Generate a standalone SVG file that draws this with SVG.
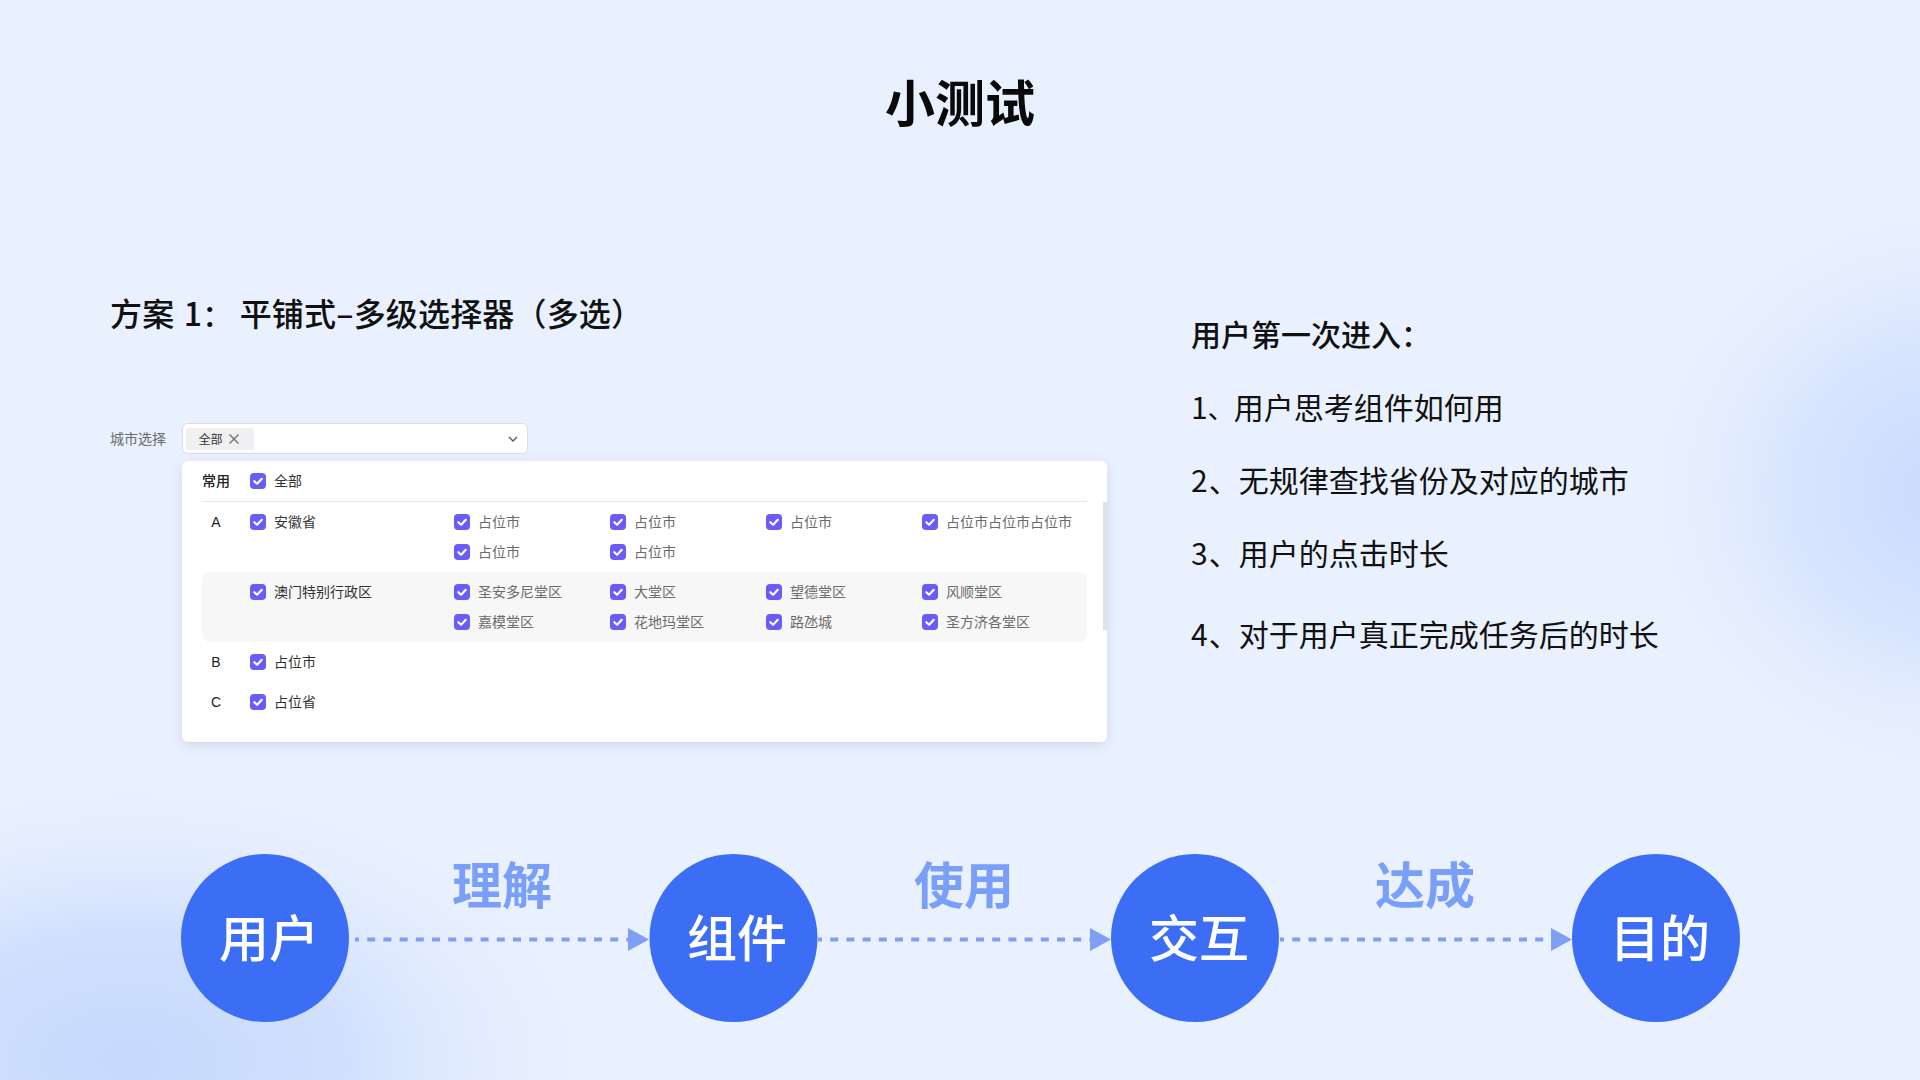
<svg xmlns="http://www.w3.org/2000/svg" xmlns:xlink="http://www.w3.org/1999/xlink" width="1920" height="1080" viewBox="0 0 1920 1080">
<style>
text{font-family:"Noto Sans CJK SC","Noto Sans",sans-serif}
.t14{font-size:14px;fill:#333}
.g14{font-size:14px;fill:#6b6b6b}
.let{font-size:14px;fill:#222;text-anchor:middle;font-family:"Liberation Sans",sans-serif}
.body{font-size:30px;fill:#111}
.circ{fill:#3c6ef5}
.ctext{font-size:50px;font-weight:500;fill:#fff;text-anchor:middle}
.link{font-size:50px;font-weight:700;fill:#7a9ff8;text-anchor:middle}
.dash{stroke:#7f9ff7;stroke-width:4;stroke-dasharray:8 8.200;stroke-dashoffset:4;fill:none}
.head{fill:#7f9ff7}
</style>
<defs>
<radialGradient id="bl" cx="0.5" cy="0.5" r="0.5"><stop offset="0" stop-color="#c6d9fd"/><stop offset="0.45" stop-color="#cddefe" stop-opacity="0.9"/><stop offset="1" stop-color="#e9f0fe" stop-opacity="0"/></radialGradient>
<radialGradient id="rt" cx="0.5" cy="0.5" r="0.5"><stop offset="0" stop-color="#c6d9fd"/><stop offset="0.5" stop-color="#d2e1fe" stop-opacity="0.75"/><stop offset="1" stop-color="#e9f0fe" stop-opacity="0"/></radialGradient>
<filter id="sh" x="-5%" y="-5%" width="110%" height="115%"><feDropShadow dx="0" dy="3" stdDeviation="6" flood-color="#8a9bc4" flood-opacity="0.28"/></filter>
<g id="cb"><rect width="16" height="16" rx="4" fill="#6a5cf6"/><path d="M4.300 8.200l2.800 2.500 4.700-4.900" fill="none" stroke="#fff" stroke-width="2.200" stroke-linecap="round" stroke-linejoin="round"/></g>
</defs>
<rect width="1920" height="1080" fill="#e9f0fe"/>
<ellipse cx="130" cy="1060" rx="480" ry="290" fill="url(#bl)"/>
<ellipse cx="1950" cy="490" rx="320" ry="300" fill="url(#rt)"/>
<text x="960" y="122" font-size="50" font-weight="700" fill="#0a0a0a" text-anchor="middle">小测试</text>
<text x="110" y="326" font-size="32" font-weight="500" fill="#111" letter-spacing="0.170">方案 <tspan dx="2">1</tspan><tspan font-size="30">：</tspan> 平铺式–多级选择器（多选）</text>
<g id="notes">
<text class="body" x="1191" y="346" font-weight="500">用户第一次进入：</text>
<text class="body" x="1191" y="419">1<tspan font-size="26">、</tspan>用户思考组件如何用</text>
<text class="body" x="1191" y="492">2<tspan dx="1">、无规律查找省份及对应的城市</tspan></text>
<text class="body" x="1191" y="565">3<tspan dx="1">、用户的点击时长</tspan></text>
<text class="body" x="1191" y="646">4<tspan dx="1">、对于用户真正完成任务后的时长</tspan></text>
</g>
<g id="select">
<text class="g14" x="110" y="444">城市选择</text>
<rect x="182.500" y="423.500" width="345" height="30" rx="5" fill="#fff" stroke="#d9dde6"/>
<rect x="186" y="428" width="68" height="22" rx="3" fill="#f0f0f2"/>
<text class="t14" x="198.500" y="443.500" style="font-size:12px">全部</text>
<path d="M229.500 434.500l9 9M238.500 434.500l-9 9" stroke="#777" stroke-width="1.500" fill="none"/>
<path d="M509 437l4 4 4-4" stroke="#555" stroke-width="1.300" fill="none"/>
</g>
<g id="panel">
<rect x="182" y="461" width="925" height="281" rx="6" fill="#fff" filter="url(#sh)"/>
<rect x="1103" y="502" width="4" height="128" fill="#e0e2e8"/>
<path d="M202 501.500H1087" stroke="#e6e6e8" stroke-width="1"/>
<rect x="202" y="572" width="885" height="70" rx="8" fill="#f7f7f8"/>
<text class="t14" x="202" y="486" style="fill:#222;font-weight:500">常用</text>
<text class="let" x="216" y="527">A</text>
<text class="let" x="216" y="667">B</text>
<text class="let" x="216" y="707">C</text>
<use xlink:href="#cb" href="#cb" x="250" y="473"/><text class="t14" x="274" y="486">全部</text>
<use xlink:href="#cb" href="#cb" x="250" y="514"/><text class="t14" x="274" y="527">安徽省</text>
<use xlink:href="#cb" href="#cb" x="250" y="584"/><text class="t14" x="274" y="597">澳门特别行政区</text>
<use xlink:href="#cb" href="#cb" x="250" y="654"/><text class="t14" x="274" y="667">占位市</text>
<use xlink:href="#cb" href="#cb" x="250" y="694"/><text class="t14" x="274" y="707">占位省</text>
<use xlink:href="#cb" href="#cb" x="454" y="514"/><text class="g14" x="478" y="527">占位市</text>
<use xlink:href="#cb" href="#cb" x="610" y="514"/><text class="g14" x="634" y="527">占位市</text>
<use xlink:href="#cb" href="#cb" x="766" y="514"/><text class="g14" x="790" y="527">占位市</text>
<use xlink:href="#cb" href="#cb" x="922" y="514"/><text class="g14" x="946" y="527">占位市占位市占位市</text>
<use xlink:href="#cb" href="#cb" x="454" y="544"/><text class="g14" x="478" y="557">占位市</text>
<use xlink:href="#cb" href="#cb" x="610" y="544"/><text class="g14" x="634" y="557">占位市</text>
<use xlink:href="#cb" href="#cb" x="454" y="584"/><text class="g14" x="478" y="597">圣安多尼堂区</text>
<use xlink:href="#cb" href="#cb" x="610" y="584"/><text class="g14" x="634" y="597">大堂区</text>
<use xlink:href="#cb" href="#cb" x="766" y="584"/><text class="g14" x="790" y="597">望德堂区</text>
<use xlink:href="#cb" href="#cb" x="922" y="584"/><text class="g14" x="946" y="597">风顺堂区</text>
<use xlink:href="#cb" href="#cb" x="454" y="614"/><text class="g14" x="478" y="627">嘉模堂区</text>
<use xlink:href="#cb" href="#cb" x="610" y="614"/><text class="g14" x="634" y="627">花地玛堂区</text>
<use xlink:href="#cb" href="#cb" x="766" y="614"/><text class="g14" x="790" y="627">路氹城</text>
<use xlink:href="#cb" href="#cb" x="922" y="614"/><text class="g14" x="946" y="627">圣方济各堂区</text>
</g>
<g id="connectors">
<path class="dash" d="M355 939.500H628"/><path class="head" d="M628 928L649 939.500L628 951Z"/>
<path class="dash" d="M818 939.500H1090"/><path class="head" d="M1090 928L1111 939.500L1090 951Z"/>
<path class="dash" d="M1280 939.500H1551"/><path class="head" d="M1551 928L1572 939.500L1551 951Z"/>
<text class="link" x="502" y="904">理解</text>
<text class="link" x="964" y="904">使用</text>
<text class="link" x="1425" y="904">达成</text>
</g>
<g id="node-user"><circle class="circ" cx="265" cy="938" r="84"/><text class="ctext" x="269" y="957">用户</text></g>
<g id="node-component"><circle class="circ" cx="733.500" cy="938" r="84"/><text class="ctext" x="737" y="957">组件</text></g>
<g id="node-interaction"><circle class="circ" cx="1195" cy="938" r="84"/><text class="ctext" x="1199" y="957">交互</text></g>
<g id="node-goal"><circle class="circ" cx="1656" cy="938" r="84"/><text class="ctext" x="1660" y="957">目的</text></g>
</svg>
